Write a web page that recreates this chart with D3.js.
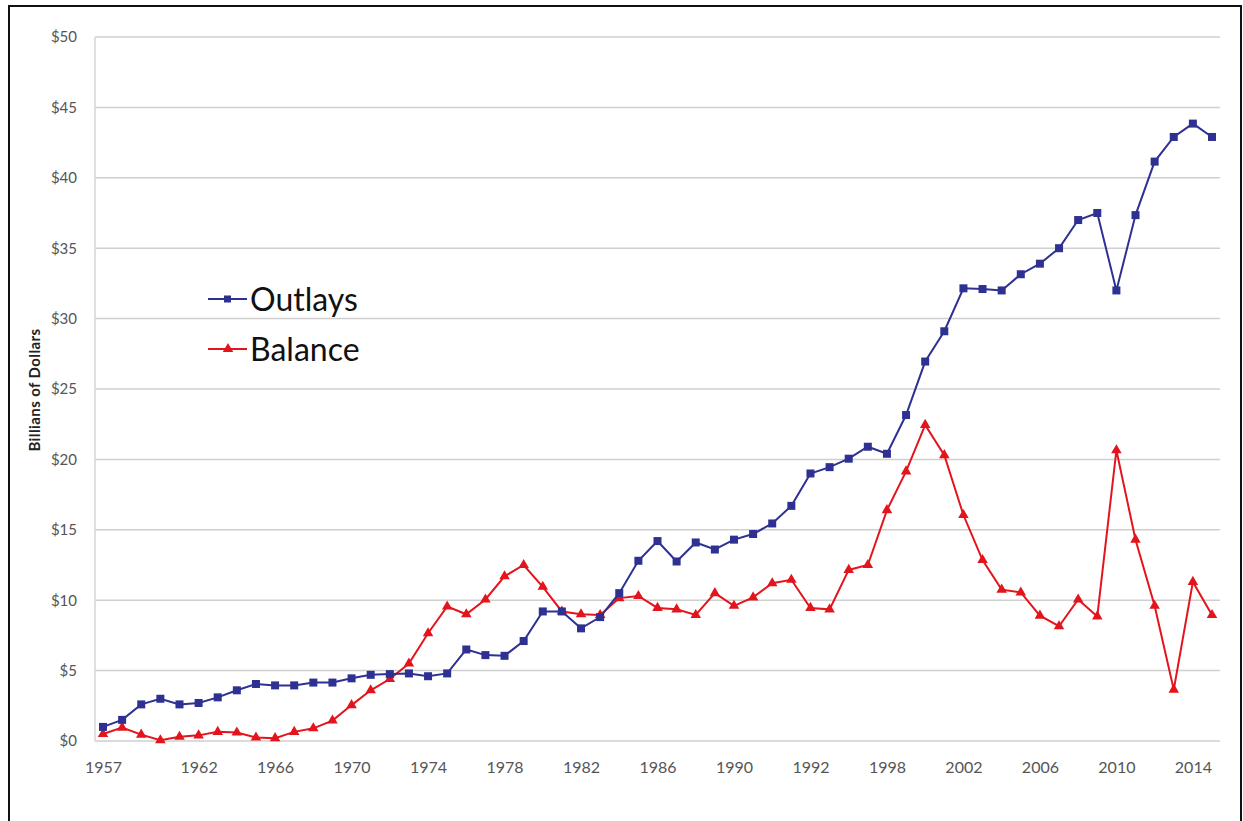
<!DOCTYPE html>
<html>
<head>
<meta charset="utf-8">
<script src="https://cdn.jsdelivr.net/npm/d3@7"></script>
<style>
  body { margin: 0; background: #fff; }
  svg { display: block; }
</style>
</head>
<body>
<div id="chart"></div>
<script>
(function () {
  'use strict';

  var years = d3.range(1957, 2016);

  var outlays = [1.0, 1.5, 2.6, 3.0, 2.6, 2.7, 3.1, 3.6, 4.05, 3.95,
    3.95, 4.15, 4.15, 4.45, 4.7, 4.75, 4.8, 4.6, 4.8, 6.5,
    6.1, 6.05, 7.1, 9.2, 9.2, 8.0, 8.8, 10.5, 12.8, 14.2,
    12.75, 14.1, 13.6, 14.3, 14.7, 15.45, 16.7, 19.0, 19.45, 20.05,
    20.9, 20.4, 23.15, 26.95, 29.1, 32.15, 32.1, 32.0, 33.15, 33.9,
    35.0, 37.0, 37.5, 32.0, 37.35, 41.15, 42.9, 43.85, 42.9];

  var balance = [0.5, 0.95, 0.45, 0.05, 0.3, 0.4, 0.65, 0.6, 0.25, 0.2,
    0.65, 0.9, 1.45, 2.55, 3.6, 4.4, 5.5, 7.65, 9.55, 9.0,
    10.05, 11.7, 12.5, 10.95, 9.2, 9.0, 8.95, 10.15, 10.3, 9.45,
    9.35, 8.95, 10.5, 9.6, 10.2, 11.2, 11.45, 9.45, 9.35, 12.15,
    12.5, 16.4, 19.15, 22.45, 20.3, 16.05, 12.85, 10.75, 10.55, 8.9,
    8.15, 10.05, 8.85, 20.65, 14.3, 9.6, 3.65, 11.3, 8.95];

  var tickYears = [1957, 1962, 1966, 1970, 1974, 1978, 1982, 1986, 1990, 1994, 1998, 2002, 2006, 2010, 2014];
  var tickLabels = ['1957', '1962', '1966', '1970', '1974', '1978', '1982', '1986', '1990', '1992', '1998', '2002', '2006', '2010', '2014'];
  var yTicks = [0, 5, 10, 15, 20, 25, 30, 35, 40, 45, 50];

  var width = 1243, height = 821;
  var blue = '#2e3192', red = '#e3141c';
  var font = 'Lato, "Open Sans", sans-serif';

  var svg = d3.select('#chart')
    .append('svg')
    .attr('width', width)
    .attr('height', height);

  // frame round the picture
  svg.append('path')
    .attr('d', 'M9,830 V6 H1241 V830')
    .attr('fill', 'none')
    .attr('stroke', '#111')
    .attr('stroke-width', 2);

  var x = d3.scaleLinear().domain([1957, 2015]).range([103, 1212]);
  var y = d3.scaleLinear().domain([0, 50]).range([741, 37]);
  var left = 95, right = 1220;

  // grid lines
  svg.append('g')
    .selectAll('line')
    .data(yTicks)
    .enter().append('line')
    .attr('x1', left)
    .attr('x2', right)
    .attr('y1', function(d) { return y(d); })
    .attr('y2', function(d) { return y(d); })
    .attr('stroke', '#cfcfcf')
    .attr('stroke-width', 1.5);

  svg.append('line')
    .attr('x1', left).attr('x2', left)
    .attr('y1', y(50)).attr('y2', y(0))
    .attr('stroke', '#d6d6d6')
    .attr('stroke-width', 1.5);

  // y axis labels
  var yAxis = d3.axisLeft(y)
    .tickValues(yTicks)
    .tickSize(0)
    .tickPadding(18)
    .tickFormat(function(d) { return '$' + d; });

  var gy = svg.append('g')
    .attr('transform', 'translate(' + left + ',0)')
    .call(yAxis);
  gy.select('.domain').remove();
  gy.selectAll('text')
    .attr('font-family', font)
    .attr('font-size', 15)
    .attr('fill', '#555');

  // x axis labels
  var xAxis = d3.axisBottom(x)
    .tickValues(tickYears)
    .tickSize(0)
    .tickPadding(21)
    .tickFormat(function(d, i) { return tickLabels[i]; });

  var gx = svg.append('g')
    .attr('transform', 'translate(0,' + y(0) + ')')
    .call(xAxis);
  gx.select('.domain').remove();
  gx.selectAll('text')
    .attr('font-family', font)
    .attr('font-size', 16)
    .attr('fill', '#555');

  // y axis title
  svg.append('text')
    .attr('transform', 'translate(40,390) rotate(-90)')
    .attr('text-anchor', 'middle')
    .attr('font-family', font)
    .attr('font-weight', 'bold')
    .attr('font-size', 15)
    .attr('letter-spacing', 0.4)
    .attr('fill', '#222')
    .text('Billians of Dollars');

  var line = d3.line()
    .x(function(d, i) { return x(years[i]); })
    .y(function(d) { return y(d); });

  var triangle = d3.symbol().type(d3.symbolTriangle).size(48);

  function drawSeries(values, colour, marker) {
    svg.append('path')
      .datum(values)
      .attr('d', line)
      .attr('fill', 'none')
      .attr('stroke', colour)
      .attr('stroke-width', 2);

    var g = svg.append('g');
    if (marker === 'square') {
      g.selectAll('rect')
        .data(values)
        .enter().append('rect')
        .attr('x', function(d, i) { return x(years[i]) - 4; })
        .attr('y', function(d) { return y(d) - 4; })
        .attr('width', 8)
        .attr('height', 8)
        .attr('fill', colour);
    } else {
      g.selectAll('path')
        .data(values)
        .enter().append('path')
        .attr('d', triangle)
        .attr('transform', function(d, i) {
          return 'translate(' + x(years[i]) + ',' + y(d) + ')';
        })
        .attr('fill', colour);
    }
  }

  drawSeries(balance, red, 'triangle');
  drawSeries(outlays, blue, 'square');

  // legend
  var legend = [
    { name: 'Outlays', colour: blue, marker: 'square', y: 299 },
    { name: 'Balance', colour: red, marker: 'triangle', y: 349 }
  ];

  legend.forEach(function(d) {
    svg.append('line')
      .attr('x1', 208).attr('x2', 247)
      .attr('y1', d.y).attr('y2', d.y)
      .attr('stroke', d.colour)
      .attr('stroke-width', 2);
    if (d.marker === 'square') {
      svg.append('rect')
        .attr('x', 224).attr('y', d.y - 3.5)
        .attr('width', 7).attr('height', 7)
        .attr('fill', d.colour);
    } else {
      svg.append('path')
        .attr('d', triangle)
        .attr('transform', 'translate(228,' + d.y + ')')
        .attr('fill', d.colour);
    }
    svg.append('text')
      .attr('x', 250)
      .attr('y', d.y + 12)
      .attr('font-family', font)
      .attr('font-size', 32)
      .attr('fill', '#111')
      .text(d.name);
  });
}());
</script>
</body>
</html>
